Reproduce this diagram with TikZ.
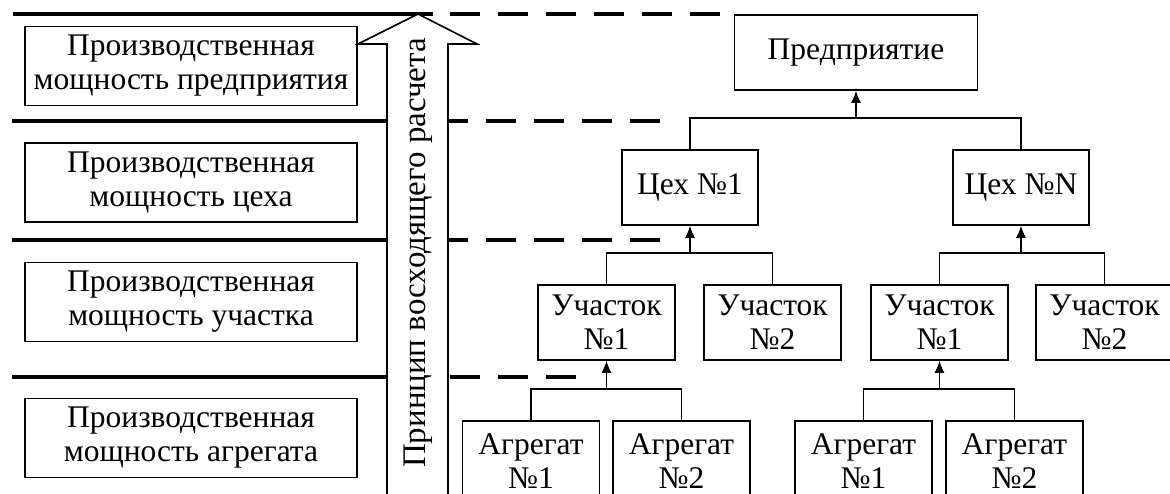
\documentclass[tikz,border=0pt]{standalone}
\usepackage{fontspec}
\setmainfont{Liberation Serif}
\usetikzlibrary{arrows.meta}
\begin{document}
\begin{tikzpicture}[x=1pt,y=-1pt,
  txt/.style={font=\fontsize{31.5}{34}\selectfont},
  box/.style={draw, line width=1.6pt, align=center, inner sep=0pt, txt},
  lbox/.style={box, minimum width=332pt, minimum height=79pt},
  tbox/.style={box, minimum width=137pt, minimum height=75pt},
  sep/.style={line width=3.6pt},
  dsep/.style={line width=3.6pt, dash pattern=on 30pt off 18pt},
  conn/.style={line width=1.3pt},
  arr/.style={line width=1.3pt, -{Latex[length=12pt,width=10pt]}},
  bigarrow/.style={draw, line width=1.6pt, fill=white}]
\useasboundingbox (0,0) rectangle (1170,493);
\clip (0,0) rectangle (1170,493);

% level separators
\draw[sep] (13,14) -- (433,14);
\draw[dsep] (450,14) -- (722,14);
\draw[sep] (12,121) -- (387,121);
\draw[dsep, dash phase=11pt] (449,121) -- (662,121);
\draw[sep] (12,240) -- (387,240);
\draw[dsep, dash phase=11pt] (449,240) -- (662,240);
\draw[sep] (12,377) -- (387,377);
\draw[dsep] (450,377) -- (579,377);

% big hollow arrow
\path[bigarrow] (387,500) -- (387,44) -- (358,44) -- (418,14) -- (477,44) -- (448,44) -- (448,500);
\node[font=\fontsize{33}{36}\selectfont, rotate=90] (principle) at (418,253) {Принцип восходящего расчета};

% left boxes
\node[lbox] (l1) at (191,66) {Производственная\\мощность предприятия};
\node[lbox] (l2) at (191,182.5) {Производственная\\мощность цеха};
\node[lbox] (l3) at (191,302) {Производственная\\мощность участка};
\node[lbox] (l4) at (191,438) {Производственная\\мощность агрегата};

% tree
\node[box, minimum width=243pt, minimum height=75pt] (ent) at (856,52.5) {Предприятие};
\node[tbox, minimum width=136pt] (c1) at (690,187.5) {Цех №1};
\node[tbox, minimum width=136pt] (cN) at (1021,187.5) {Цех №N};
\node[tbox] (u11) at (606.5,322.5) {Участок\\№1};
\node[tbox] (u12) at (772.5,322.5) {Участок\\№2};
\node[tbox] (u21) at (939.5,322.5) {Участок\\№1};
\node[tbox] (u22) at (1104.5,322.5) {Участок\\№2};
\node[tbox, minimum height=80pt] (a11) at (531,461) {Агрегат\\№1};
\node[tbox, minimum height=80pt] (a12) at (681.5,461) {Агрегат\\№2};
\node[tbox, minimum height=80pt] (a21) at (863.5,461) {Агрегат\\№1};
\node[tbox, minimum height=80pt] (a22) at (1014.5,461) {Агрегат\\№2};

% junctions
\coordinate (j0) at (856,118);
\coordinate (j1) at (690,253);
\coordinate (j2) at (1021,253);
\coordinate (j3) at (606.5,389);
\coordinate (j4) at (939.5,389);

\draw[conn] (c1.north) |- (j0) -| (cN.north);
\draw[arr] (j0) -- (ent.south);
\draw[conn] (u11.north) |- (j1) -| (u12.north);
\draw[arr] (j1) -- (c1.south);
\draw[conn] (u21.north) |- (j2) -| (u22.north);
\draw[arr] (j2) -- (cN.south);
\draw[conn] (a11.north) |- (j3) -| (a12.north);
\draw[arr] (j3) -- (u11.south);
\draw[conn] (a21.north) |- (j4) -| (a22.north);
\draw[arr] (j4) -- (u21.south);
\end{tikzpicture}
\end{document}
